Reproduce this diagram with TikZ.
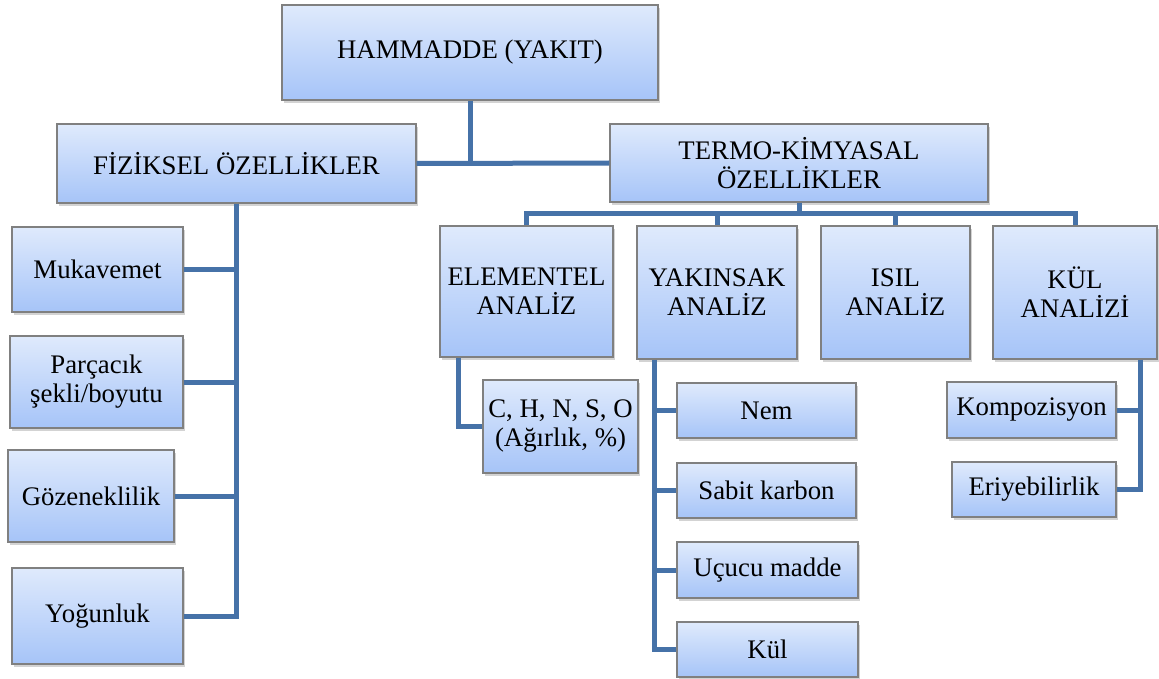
\documentclass[tikz,border=0pt]{standalone}
\usepackage{fontspec}
\setmainfont{Liberation Serif}
\usepackage{tikz}
\usetikzlibrary{positioning,shadows}
\definecolor{hatmavi}{RGB}{70,114,168}
\definecolor{kenar}{RGB}{128,128,128}
\definecolor{ustrenk}{RGB}{223,234,252}
\definecolor{altrenk}{RGB}{166,196,248}
\tikzset{
  kutu/.style 2 args={draw=kenar, line width=1.3pt, top color=ustrenk, bottom color=altrenk,
    drop shadow={opacity=0.35, shadow xshift=2pt, shadow yshift=-3pt},
    minimum width=#1, minimum height=#2, inner sep=0pt, align=center,
    font=\fontsize{26.8}{29}\selectfont},
  hat/.style={draw=hatmavi, line width=5pt, line join=miter}
}

\begin{document}
\begin{tikzpicture}[x=1pt, y=-1pt]
\useasboundingbox (0,0) rectangle (1159,679);
% top levels
\node[kutu={376pt}{95pt}] (ham) at (470,52.5) {HAMMADDE (YAKIT)};
\node[kutu={359pt}{79pt}] (fiz) at (236.5,163.5) {FİZİKSEL ÖZELLİKLER};
\node[kutu={378pt}{78pt}] (termo) at (799,163) {TERMO-KİMYASAL\\ÖZELLİKLER};
% analysis boxes
\node[kutu={173pt}{131pt}] (elem) at (526.5,291.5) {ELEMENTEL\\ANALİZ};
\node[kutu={160pt}{133pt}] (yak) at (717,292.5) {YAKINSAK\\ANALİZ};
\node[kutu={149pt}{133pt}] (isil) at (895.5,292.5) {ISIL\\ANALİZ};
\node[kutu={164pt}{133pt}] (kul) at (1075,292.5) {KÜL\\ANALİZİ};
% physical properties
\node[kutu={171pt}{85pt}] (muk) at (97.5,269.5) {Mukavemet};
\node[kutu={173pt}{92pt}] (par) at (96.5,382) {Parçacık\\şekli/boyutu};
\node[kutu={166pt}{92pt}] (goz) at (91,496) {Gözeneklilik};
\node[kutu={171pt}{96pt}] (yog) at (97.5,616) {Yoğunluk};
% sub items
\node[kutu={155pt}{93pt}] (chn) at (560.5,426.5) {C, H, N, S, O\\(Ağırlık, \%)};
\node[kutu={179pt}{55pt}] (nem) at (766.5,410.5) {Nem};
\node[kutu={179pt}{55pt}] (sab) at (766.5,490.5) {Sabit karbon};
\node[kutu={181pt}{56pt}] (ucu) at (767.5,570) {Uçucu madde};
\node[kutu={181pt}{55pt}] (kul2) at (767.5,649.5) {Kül};
\node[kutu={169pt}{56pt}] (komp) at (1031.5,410) {Kompozisyon};
\node[kutu={164pt}{55pt}] (eri) at (1034,489.5) {Eriyebilirlik};
% connectors
\coordinate (bar) at (0,214);
\coordinate (eh) at ([xshift=-68.5pt]elem.south);
\coordinate (yh) at ([xshift=-63pt]yak.south);
\coordinate (kh) at ([xshift=65pt]kul.south);
\draw[hat] (fiz.east) -- (termo.west);
\draw[hat] (ham.south) -- (ham.south |- fiz.east);
\draw[hat] (termo.south) -- (termo.south |- bar);
\draw[hat] (elem.north) -- (elem.north |- bar) -- (kul.north |- bar) -- (kul.north);
\draw[hat] (yak.north) -- (yak.north |- bar);
\draw[hat] (isil.north) -- (isil.north |- bar);
\draw[hat] (fiz.south) |- (yog.east);
\foreach \k in {muk,par,goz} \draw[hat] (\k.east) -- (\k.east -| fiz.south);
\draw[hat] (eh) |- (chn.west);
\draw[hat] (yh) |- (kul2.west);
\foreach \k in {nem,sab,ucu} \draw[hat] (\k.west) -- (\k.west -| yh);
\draw[hat] (kh) |- (eri.east);
\draw[hat] (komp.east) -- (komp.east -| kh);
\end{tikzpicture}
\end{document}
